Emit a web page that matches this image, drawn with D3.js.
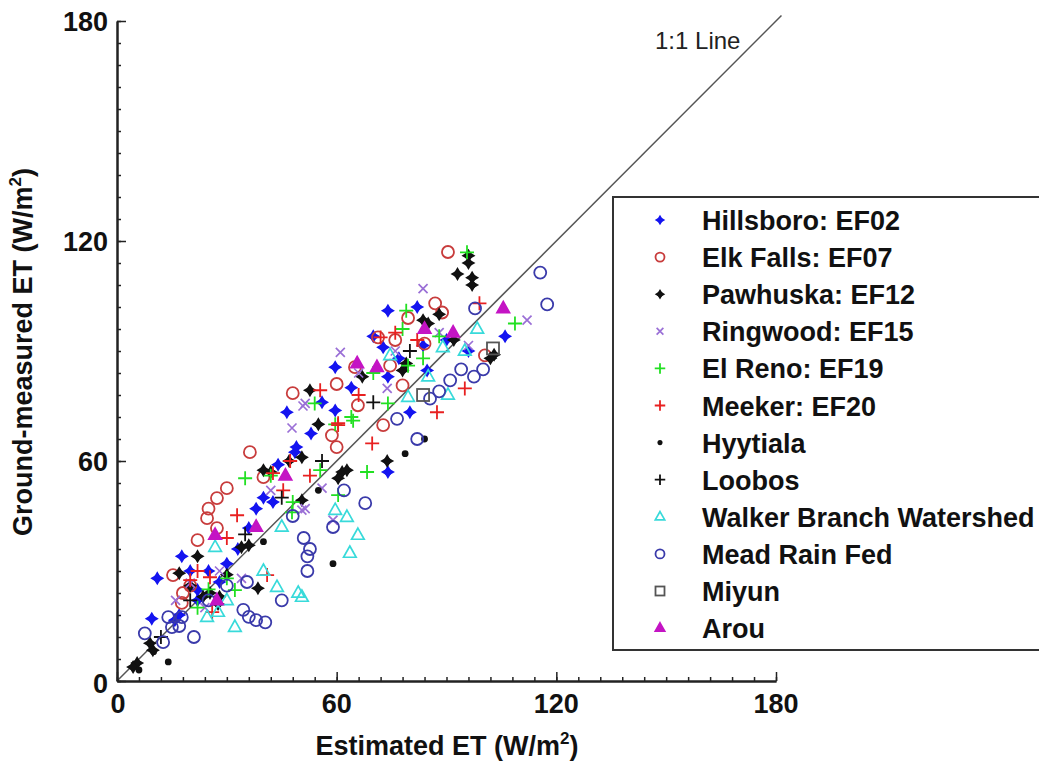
<!DOCTYPE html>
<html>
<head>
<meta charset="utf-8">
<script src="https://cdn.jsdelivr.net/npm/d3@7"></script>
<style>
  body { margin: 0; background: #fff; }
  text { font-family: "Liberation Sans", Arial, sans-serif; }
</style>
</head>
<body>
<div id="chart"></div>
<script>
// chart size
var svgWidth = 1039;
var svgHeight = 762;

// axis ticks
var majorTicks = [0, 60, 120, 180];
var minorTicks = d3.range(0, 181, 6);

// series values, [estimated, ground-measured]
var hillsboro = [[11,28],[9.5,17],[17.7,34],[38,47],[36,41.7],[42.6,48.8],[48.6,62.4],[15.8,16.6],[22,22],[22,24.8],[74,101],[82,102],[59.6,85.6],[74,83],[72.7,91],[46.4,73.3],[59.6,73.8],[80,73.3],[84.7,84.7],[106,94],[83.6,91.5],[53,67.5],[49,63.8],[74,57],[20,30],[25,30],[30,32],[17,18],[40,50],[56,76],[64,80],[77,88],[96,90],[44,59],[28,27],[33,36],[70,94],[90,93]];
var elkFalls = [[90.4,117],[86.9,103],[88.8,100.5],[79.5,99],[71.3,93.7],[74.6,86],[78,80.6],[100.5,88.8],[65.8,75.2],[60,81],[48,78.5],[65,85.6],[58.7,67],[60,63.8],[72.7,69.8],[36.3,62.4],[30,52.6],[27.3,49.9],[25,47],[24.6,44.4],[22,38.4],[27.3,41.7],[15.3,28.9],[40,55.6],[17.7,21.3],[20,26],[18,24],[84,92],[76,93]];
var pawhuska = [[93,111],[96,114],[97,110],[97,108],[96,116],[83.6,98.4],[85,97.5],[92,93],[103,89],[102,88],[79,86.6],[78,84.7],[52.7,79.3],[40,57.5],[50.5,61],[36,37],[34,36.5],[22,34],[17,29.4],[25.4,24],[28,23],[23.5,23],[27.6,21],[9.8,8.4],[9,10.3],[5.5,4.9],[4.4,3.8],[38.5,25.3],[73.8,60],[61.5,57],[60.4,55.3],[62.8,57.5],[50.5,49.3],[67,83],[47,60],[42,57],[55,70],[88,100],[20,26],[30,29]];
var ringwood = [[83.6,107],[61,89.6],[112,98.4],[73.8,79.8],[51.4,75.7],[96,91.5],[56,52.6],[51.4,47],[59,43.9],[47.8,69],[50.8,75],[20,26.7],[50.5,46.6],[28,30],[24,20],[34,28],[66,84],[88,95],[76,90],[16,22],[42,52]];
var elReno = [[95.6,116.9],[108.7,97.5],[79,101],[78,96],[83.6,88],[79.5,86],[74,75.7],[64,72],[54,75.7],[59.6,70],[68.3,57],[60.4,50.7],[55.5,57.5],[64.5,71],[35,55.3],[48,48.8],[47.8,46],[32.2,24.8],[25,25],[30,28],[70,84],[88,94],[42,56],[22,20]];
var meeker = [[99,103],[87.4,73.3],[95,79.8],[55.5,79.3],[82,93],[72,93.7],[60.4,70.3],[69.7,64.8],[52.7,56],[60.4,69.8],[32.8,45.2],[41,28.9],[30,39],[25.4,28.3],[20,27.5],[45.4,52],[42.6,56.7],[26,18.8],[47.3,60],[76,95],[22,30],[66,78]];
var hyytiala = [[14,5.2],[59,32],[78.7,62],[84,66],[10,8],[6,3],[40,38],[55,52]];
var loobos = [[35,40],[56,60],[80,90],[20,22],[12,12],[45,50],[70,76]];
var walker = [[59.6,46.6],[62.8,44.7],[65.8,39.8],[63.6,34.9],[50.5,22.9],[90.4,78],[98.4,96],[95,90],[79.5,77.4],[74.6,88.8],[89,91],[45,42],[43.7,25.6],[49.5,24],[32.2,14.7],[27.6,18.8],[26.8,36.5],[24.6,17.4],[40,30],[30,22],[85,83]];
var mead = [[117.5,102.7],[115.6,111.4],[97.8,101.6],[100,85],[97.5,83],[94,85],[91,82],[88,79],[85.5,77],[82,66],[76.5,71.5],[67.8,48.5],[59,42],[51,39],[52.7,36],[52,34],[52,30],[45,22],[35.5,27],[34.5,19.4],[36,17.5],[38,16.6],[40.5,16],[21,12],[7.6,13],[12.6,10.6],[15,14.7],[17,15],[14,17.4],[17.7,17.4],[62,52],[25,22],[30,26],[48,45]];
var miyun = [[102.7,90.7],[83.6,78]];
var arou = [[91.8,95],[105.5,101.6],[71,85.6],[65.6,86.6],[26.8,39.8],[46,56],[27.3,22],[38,42],[84,96]];

var siteNames = ["Hillsboro: EF02", "Elk Falls: EF07", "Pawhuska: EF12", "Ringwood: EF15",
  "El Reno: EF19", "Meeker: EF20", "Hyytiala", "Loobos", "Walker Branch Watershed",
  "Mead Rain Fed", "Miyun", "Arou"];
var siteData = [hillsboro, elkFalls, pawhuska, ringwood, elReno, meeker, hyytiala, loobos, walker, mead, miyun, arou];

// marker style per site
var styles = [
  {shape: "star", color: "#1414f0"},
  {shape: "circle", color: "#c83c3c"},
  {shape: "star", color: "#111"},
  {shape: "x", color: "#9a6fd6"},
  {shape: "plus", color: "#22e022"},
  {shape: "plus", color: "#e82020"},
  {shape: "dot", color: "#111"},
  {shape: "plus", color: "#111"},
  {shape: "triangle", color: "#38dada"},
  {shape: "circle", color: "#3a3aaa"},
  {shape: "square", color: "#555"},
  {shape: "triFill", color: "#c414c4"}
];

var svg = d3.select("#chart")
  .append("svg")
  .attr("width", svgWidth)
  .attr("height", svgHeight);

var x = d3.scaleLinear().domain([0, 180]).range([117, 776]);
var y = d3.scaleLinear().domain([0, 180]).range([681, 21]);

// draw one marker into group g, scale k
function marker(g, shape, color, k) {
  k = k || 1;
  if (shape == "star") {
    var r = 7 * k, w = 2.6 * k;
    g.append("path")
      .attr("d", `M0,${-r}L${w},${-w}L${r},0L${w},${w}L0,${r}L${-w},${w}L${-r},0L${-w},${-w}Z`)
      .attr("fill", color);
    g.append("circle").attr("r", 3.5 * k).attr("fill", color);
  } else if (shape == "circle") {
    g.append("circle").attr("r", 6 * k).attr("fill", "none")
      .attr("stroke", color).attr("stroke-width", 1.8);
  } else if (shape == "x") {
    var s = 4.5 * k;
    g.append("path").attr("d", `M${-s},${-s}L${s},${s}M${-s},${s}L${s},${-s}`)
      .attr("stroke", color).attr("stroke-width", 1.7);
  } else if (shape == "plus") {
    var p = 7 * k;
    g.append("path").attr("d", `M${-p},0L${p},0M0,${-p}L0,${p}`)
      .attr("stroke", color).attr("stroke-width", 1.8);
  } else if (shape == "dot") {
    g.append("circle").attr("r", 3.4 * k).attr("fill", color);
  } else if (shape == "triangle" || shape == "triFill") {
    var t = 7 * k;
    g.append("path").attr("d", `M0,${-t}L${t * 0.9},${t * 0.6}L${-t * 0.9},${t * 0.6}Z`)
      .attr("fill", shape == "triFill" ? color : "none")
      .attr("stroke", color).attr("stroke-width", 1.7);
  } else if (shape == "square") {
    var q = 6 * k;
    g.append("rect").attr("x", -q).attr("y", -q).attr("width", 2 * q).attr("height", 2 * q)
      .attr("fill", "none").attr("stroke", color).attr("stroke-width", 1.8);
  }
}

// 1:1 line
svg.append("line")
  .attr("x1", x(0)).attr("y1", y(0))
  .attr("x2", x(181.5)).attr("y2", y(181.5))
  .attr("stroke", "#555").attr("stroke-width", 1.5);

svg.append("text")
  .attr("x", 655).attr("y", 49)
  .style("font-size", "24px")
  .attr("fill", "#222")
  .text("1:1 Line");

// points
siteData.forEach(function(data, i) {
  svg.append("g").selectAll("g")
    .data(data)
    .enter()
    .append("g")
    .attr("transform", d => `translate(${x(d[0])},${y(d[1])})`)
    .each(function() { marker(d3.select(this), styles[i].shape, styles[i].color); });
});

// axes, ticks point inwards
function addAxis(axis, transform) {
  var g = svg.append("g").attr("transform", transform).call(axis);
  g.selectAll("text").remove();
  g.selectAll("path.domain").attr("stroke", "#222").attr("stroke-width", 2);
  g.selectAll("line").attr("stroke", "#222").attr("stroke-width", 1.5);
  return g;
}
addAxis(d3.axisBottom(x).tickValues(minorTicks).tickSizeInner(-4).tickSizeOuter(0), `translate(0,${y(0)})`);
addAxis(d3.axisBottom(x).tickValues(majorTicks).tickSizeInner(-9).tickSizeOuter(0), `translate(0,${y(0)})`);
addAxis(d3.axisLeft(y).tickValues(minorTicks).tickSizeInner(-4).tickSizeOuter(0), `translate(${x(0)},0)`);
addAxis(d3.axisLeft(y).tickValues(majorTicks).tickSizeInner(-9).tickSizeOuter(0), `translate(${x(0)},0)`);

// tick labels
svg.append("g").selectAll("text")
  .data(majorTicks)
  .enter()
  .append("text")
  .attr("x", d => x(d) + (d == 0 ? 1 : 0))
  .attr("y", 713)
  .attr("text-anchor", "middle")
  .style("font-size", "27px").style("font-weight", "bold")
  .attr("fill", "#111")
  .text(d => d);

svg.append("g").selectAll("text")
  .data(majorTicks)
  .enter()
  .append("text")
  .attr("x", 108)
  .attr("y", d => y(d) + 10 + (d == 0 ? 2 : 0))
  .attr("text-anchor", "end")
  .style("font-size", "27px").style("font-weight", "bold")
  .attr("fill", "#111")
  .text(d => d);

// axis titles
var xTitle = svg.append("text")
  .attr("x", 447).attr("y", 755)
  .attr("text-anchor", "middle")
  .style("font-size", "27px").style("font-weight", "bold")
  .attr("fill", "#111");
xTitle.append("tspan").text("Estimated ET (W/m");
xTitle.append("tspan").attr("dy", -11).style("font-size", "17px").text("2");
xTitle.append("tspan").attr("dy", 11).text(")");

var yTitle = svg.append("text")
  .attr("transform", "translate(32,352) rotate(-90)")
  .attr("text-anchor", "middle")
  .style("font-size", "27px").style("font-weight", "bold")
  .attr("fill", "#111");
yTitle.append("tspan").text("Ground-measured ET (W/m");
yTitle.append("tspan").attr("dy", -11).style("font-size", "17px").text("2");
yTitle.append("tspan").attr("dy", 11).text(")");

// legend
var legend = svg.append("g");
legend.append("rect")
  .attr("x", 613).attr("y", 197)
  .attr("width", 440).attr("height", 453)
  .attr("fill", "#fff")
  .attr("stroke", "#333").attr("stroke-width", 2);

siteNames.forEach(function(name, i) {
  var row = legend.append("g").attr("transform", `translate(660,${220 + i * 37.1})`);
  marker(row, styles[i].shape, styles[i].color, 0.75);
  row.append("text")
    .attr("x", 42).attr("y", 10)
    .style("font-size", "27px").style("font-weight", "bold")
    .attr("fill", "#111")
    .text(name);
});
</script>
</body>
</html>
